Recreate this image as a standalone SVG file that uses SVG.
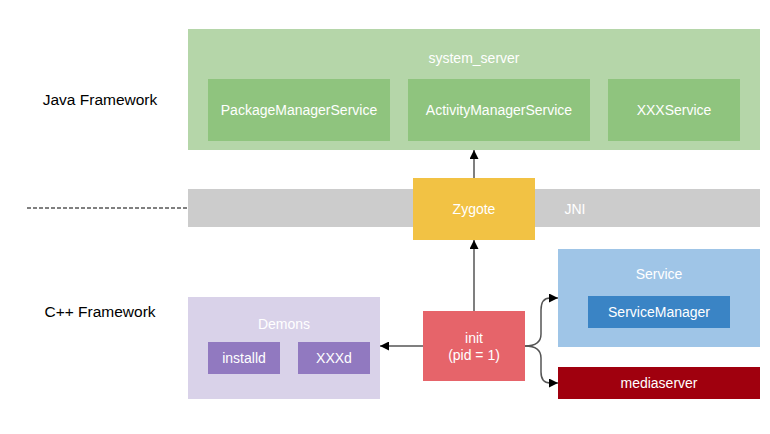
<svg xmlns="http://www.w3.org/2000/svg" width="770" height="434" viewBox="0 0 770 434">
<defs>
<style>
text{font-family:"Liberation Sans",Arial,sans-serif;font-size:14px;text-anchor:middle;dominant-baseline:central;fill:#ffffff}
.lbl{fill:#000000;font-size:15.5px}
.conn{fill:none;stroke:#555555;stroke-width:1.5}
</style>
<marker id="ah" viewBox="0 0 10 10" refX="10" refY="5" markerWidth="9" markerHeight="9" markerUnits="userSpaceOnUse" orient="auto">
<path d="M0,0 L10,5 L0,10 Z" fill="#000000"/>
</marker>
</defs>
<rect width="770" height="434" fill="#ffffff"/>
<g id="labels">
<text class="lbl" x="100" y="99">Java Framework</text>
<text class="lbl" x="100" y="311">C++ Framework</text>
<line x1="27" y1="208" x2="188" y2="208" stroke="#000000" stroke-width="1" stroke-dasharray="4,2"/>
</g>
<g id="system_server">
<rect x="188" y="29" width="572" height="121" fill="#b5d6a9"/>
<text x="474" y="58">system_server</text>
</g>
<g id="pms"><rect x="208" y="79" width="182" height="62" fill="#8fc47e"/><text x="299" y="110">PackageManagerService</text></g>
<g id="ams"><rect x="408" y="79" width="182" height="62" fill="#8fc47e"/><text x="499" y="110">ActivityManagerService</text></g>
<g id="xxxservice"><rect x="608" y="79" width="132" height="62" fill="#8fc47e"/><text x="674" y="110">XXXService</text></g>
<g id="jni"><rect x="188" y="189" width="572" height="38" fill="#cccccc"/><text x="575" y="209">JNI</text></g>
<g id="zygote"><rect x="413" y="178" width="122" height="62" fill="#f2c244"/><text x="474" y="209">Zygote</text></g>
<g id="demons">
<rect x="188" y="297" width="192" height="102" fill="#d9d2e9"/>
<text x="284" y="324">Demons</text>
</g>
<g id="installd"><rect x="208" y="342" width="72" height="32" fill="#9179c0"/><text x="244" y="358">installd</text></g>
<g id="xxxd"><rect x="298" y="342" width="72" height="32" fill="#9179c0"/><text x="334" y="358">XXXd</text></g>
<g id="init">
<rect x="423" y="311" width="102" height="70" fill="#e6646a"/>
<text x="474" y="338">init</text>
<text x="474" y="355">(pid = 1)</text>
</g>
<g id="service">
<rect x="558" y="249" width="202" height="98" fill="#9fc5e7"/>
<text x="659" y="274">Service</text>
</g>
<g id="servicemanager"><rect x="588" y="296" width="142" height="32" fill="#3a84c5"/><text x="659" y="312">ServiceManager</text></g>
<g id="mediaserver"><rect x="558" y="367" width="202" height="32" fill="#a0000e"/><text x="659" y="383">mediaserver</text></g>
<g id="connectors">
<path class="conn" d="M474,178 L474,150" marker-end="url(#ah)"/>
<path class="conn" d="M474,311 L474,240" marker-end="url(#ah)"/>
<path class="conn" d="M423,346 L380,346" marker-end="url(#ah)"/>
<path class="conn" d="M525,346 C536,346 541,342 541,334 L541,310 C541,302 544,298 550,298 L558,298" marker-end="url(#ah)"/>
<path class="conn" d="M525,346 C536,346 541,350 541,358 L541,372 C541,380 544,383 550,383 L558,383" marker-end="url(#ah)"/>
</g>
</svg>
